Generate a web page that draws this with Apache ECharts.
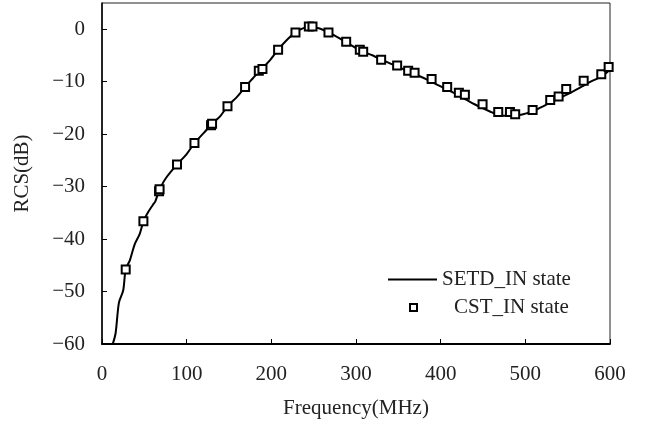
<!DOCTYPE html>
<html>
<head>
<meta charset="utf-8">
<script src="https://cdn.jsdelivr.net/npm/echarts@6/dist/echarts.min.js"></script>
<style>
  html, body { margin: 0; padding: 0; background: #fff; }
  #chart { width: 656px; height: 430px; }
</style>
</head>
<body>
<div id="chart"></div>
<script>
// SETD_IN state curve: [frequency MHz, RCS dB]
const setdPoints = [
  [12.3, -60.2], [16, -58], [20, -52.1], [25, -49.8], [28, -45.8], [33, -44],
  [38.6, -41], [44.6, -39], [49, -36.6], [54.4, -34.9], [60, -33.5], [63, -32.8],
  [67.4, -30.8], [75, -28.5], [88.6, -25.8], [100, -23.8], [109.2, -21.7], [120, -19.8],
  [129, -18.2], [140, -16.5], [148.2, -14.7], [160, -12.8], [169, -11.0], [178, -9.4],
  [187, -7.8], [198, -6.0], [208, -3.9], [218, -2.1], [228.5, -0.6], [238, 0.2],
  [246, 0.4], [256, 0.2], [267.5, -0.6], [278, -1.5], [288.4, -2.5], [300, -3.6],
  [310, -4.4], [320, -5.0], [330, -5.8], [340, -6.5], [350, -7.2], [360, -7.9],
  [370, -8.6], [380, -9.3], [390, -10.1], [400, -10.9], [410, -11.7], [420, -12.5],
  [430, -13.4], [440, -14.3], [450, -15.1], [460, -15.8], [466, -16.2], [476, -16.5],
  [486, -16.5], [495, -16.3], [502, -16.0], [510, -15.6], [517, -15.0], [527, -14.2],
  [537, -13.4], [547, -12.6], [557, -11.8], [567, -10.9], [576, -10.1], [586, -9.3],
  [596, -8.3], [600, -7.6]
];

// CST_IN state samples: [frequency MHz, RCS dB]
const cstPoints = [
  [28, -45.8], [48.9, -36.6], [67.4, -30.9], [68, -30.5], [88.6, -25.8], [109.2, -21.7],
  [128.8, -18.3], [130, -18.0], [148.2, -14.7], [169, -11.0], [185.2, -7.9], [189.5, -7.6],
  [208, -3.9], [228.5, -0.6], [244.3, 0.5], [248.6, 0.5], [267.5, -0.6], [288.4, -2.4],
  [304.5, -3.9], [308.5, -4.3], [329.7, -5.8], [348.6, -6.9], [361.6, -7.9], [369.2, -8.3],
  [389.3, -9.5], [407.7, -11.0], [421.5, -12.1], [428.6, -12.5], [449.5, -14.3], [468, -15.8],
  [481.8, -15.8], [488, -16.2], [508.6, -15.4], [529.4, -13.5], [539.3, -12.8], [548.3, -11.4],
  [568.9, -9.8], [589.7, -8.6], [598.4, -7.2]
];

const seriesNames = ['SETD_IN state', 'CST_IN state'];

const font = 'Liberation Serif';

const chart = echarts.init(document.getElementById('chart'));

const option = {
  animation: false,
  backgroundColor: '#fff',
  grid: {
    left: 102,
    right: 46,
    top: 3,
    bottom: 86,
    show: true,
    borderColor: '#222',
    borderWidth: 1,
  },
  legend: [
    {
      data: [{ name: seriesNames[0], icon: 'rect' }],
      left: 383,
      top: 264,
      itemWidth: 49,
      itemHeight: 2,
      itemStyle: { color: '#000' },
      selectedMode: false,
      textStyle: { fontFamily: font, fontSize: 21, color: '#222', lineHeight: 21 },
    },
    {
      data: [{ name: seriesNames[1], icon: 'rect' }],
      left: 404,
      top: 292,
      itemWidth: 7,
      itemHeight: 7,
      itemStyle: { color: '#fff', borderColor: '#000', borderWidth: 2 },
      selectedMode: false,
      textStyle: { fontFamily: font, fontSize: 21, color: '#222', lineHeight: 21, padding: [0, 0, 0, 32] },
    },
  ],
  xAxis: {
    type: 'value',
    min: 0,
    max: 600,
    interval: 100,
    name: 'Frequency(MHz)',
    nameLocation: 'middle',
    nameGap: 54,
    nameTextStyle: { fontFamily: font, fontSize: 21, color: '#222' },
    axisLine: { onZero: false, lineStyle: { color: '#000', width: 2 } },
    axisTick: { inside: true, length: 5, lineStyle: { color: '#000', width: 1 } },
    axisLabel: { margin: 20, fontFamily: font, fontSize: 21, color: '#222' },
    splitLine: { show: false },
  },
  yAxis: {
    type: 'value',
    min: -60,
    max: 5,
    interval: 10,
    name: 'RCS(dB)',
    nameLocation: 'middle',
    nameGap: 69,
    nameTextStyle: { fontFamily: font, fontSize: 21, color: '#222' },
    axisLine: { onZero: false, lineStyle: { color: '#000', width: 1.5 } },
    axisTick: { inside: true, length: 5, lineStyle: { color: '#000', width: 1 } },
    axisLabel: {
      margin: 17,
      showMaxLabel: false,
      fontFamily: font,
      fontSize: 21,
      color: '#222',
      formatter: (v) => (v === 5 ? '' : (v < 0 ? '\u2212' + Math.abs(v) : String(v))),
    },
    splitLine: { show: false },
  },
  series: [
    {
      name: seriesNames[0],
      type: 'line',
      data: setdPoints,
      smooth: 0.3,
      showSymbol: false,
      symbol: 'none',
      lineStyle: { color: '#000', width: 2 },
      itemStyle: { color: '#000' },
      z: 2,
    },
    {
      name: seriesNames[1],
      type: 'scatter',
      data: cstPoints,
      symbol: 'rect',
      symbolSize: 8,
      itemStyle: { color: '#fff', borderColor: '#000', borderWidth: 2, opacity: 1 },
      z: 3,
    },
  ],
};

chart.setOption(option);
</script>
</body>
</html>
